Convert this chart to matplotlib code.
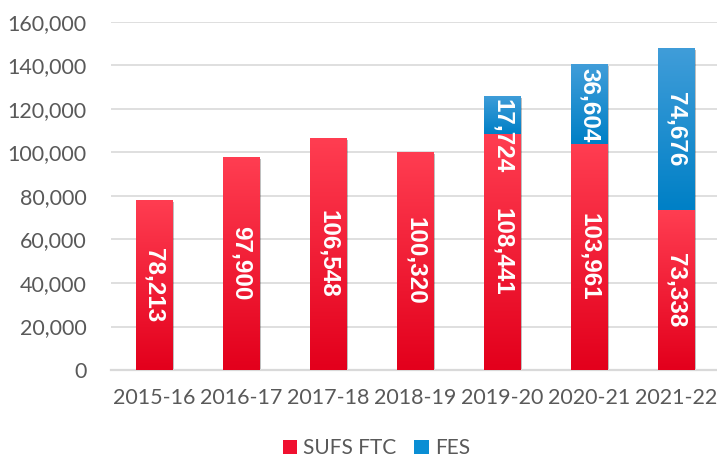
import numpy as np
import matplotlib
matplotlib.use("Agg")
import matplotlib.pyplot as plt
import matplotlib.patheffects as pe
from matplotlib.patches import Patch
from matplotlib.colors import to_rgb

years = ["2015-16", "2016-17", "2017-18", "2018-19", "2019-20", "2020-21", "2021-22"]
sufs_ftc = [78213, 97900, 106548, 100320, 108441, 103961, 73338]
fes = [0, 0, 0, 0, 17724, 36604, 74676]
yticks = [0, 20000, 40000, 60000, 80000, 100000, 120000, 140000, 160000]

red_top, red_bot = "#ff3d51", "#e3001c"
blue_top, blue_bot = "#409dd9", "#0080c6"
grey = "#595959"


def gradient(top, bot, n=64):
    t = np.linspace(0, 1, n)[:, None]
    a = np.array(to_rgb(top))
    b = np.array(to_rgb(bot))
    return (a * (1 - t) + b * t).reshape(n, 1, 3)


fig = plt.figure(figsize=(7.17, 4.61), dpi=100)
ax = fig.add_axes([110.5 / 717, 91 / 461, 606.5 / 717, 348 / 461])

x = np.arange(len(years))
w = 0.414
shadow = [pe.SimplePatchShadow(offset=(1.5, -1.5), shadow_rgbFace="#000000", alpha=0.25), pe.Normal()]
half_label = 18600  # half the label length in data units, keeps labels inside short segments

for vals, bottoms, top_c, bot_c in [
    (sufs_ftc, [0] * len(years), red_top, red_bot),
    (fes, sufs_ftc, blue_top, blue_bot),
]:
    bars = ax.bar(x, vals, w, bottom=bottoms, color=bot_c, zorder=2)
    for b, v in zip(bars, vals):
        if v == 0:
            continue
        b.set_path_effects(shadow)
        x0, y0 = b.get_x(), b.get_y()
        img = ax.imshow(gradient(top_c, bot_c), extent=[x0, x0 + w, y0, y0 + v],
                        aspect="auto", interpolation="bilinear", zorder=3)
        img.set_clip_path(b)
        yc = min(y0 + v / 2, y0 + v - half_label)
        ax.text(x0 + w / 2, yc, f"{v:,}", rotation=-90, ha="center", va="center",
                color="white", fontsize=17.5, fontweight="bold", family="Liberation Sans",
                zorder=5)

ax.set_xlim(-0.5, 6.47)
ax.set_ylim(0, 160000)
ax.set_yticks(yticks)
ax.set_yticklabels([f"{v:,}" for v in yticks])
ax.set_xticks(x)
ax.set_xticklabels(years)
ax.tick_params(axis="both", length=0, labelsize=15.5, labelcolor=grey)
ax.tick_params(axis="y", pad=17)
ax.tick_params(axis="x", pad=13)
for lab in ax.get_xticklabels() + ax.get_yticklabels():
    lab.set_family("Lato")

ax.grid(axis="y", color="#d9d9d9", lw=1.2, zorder=0)
ax.set_axisbelow(True)
for s in ["top", "right", "left"]:
    ax.spines[s].set_visible(False)
ax.spines["bottom"].set_color("#d9d9d9")
ax.spines["bottom"].set_linewidth(1.6)

handles = [Patch(facecolor="#f01030", label="SUFS FTC"), Patch(facecolor="#0a8ed4", label="FES")]
leg = fig.legend(handles=handles, loc="center", bbox_to_anchor=(0.525, 0.028), ncol=2,
                 frameon=False, handlelength=0.7, handleheight=0.7, handletextpad=0.3,
                 columnspacing=0.85, borderpad=0.2, prop={"family": "Lato", "size": 15})
for t in leg.get_texts():
    t.set_color(grey)

fig.savefig("out.png", dpi=100)
